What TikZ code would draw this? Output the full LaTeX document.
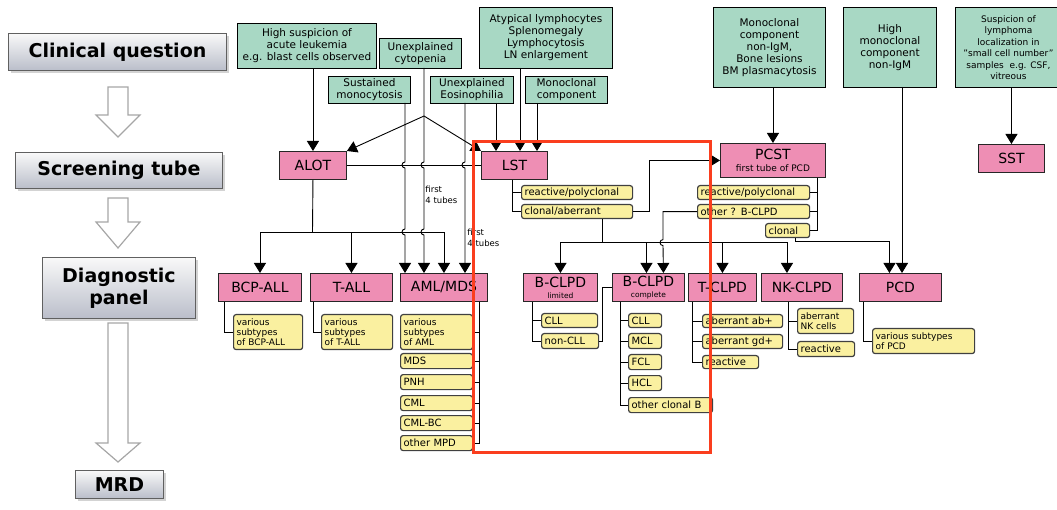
\documentclass[tikz,border=0pt]{standalone}
\usepackage{fontspec}
\setmainfont{DejaVu Sans}
\usetikzlibrary{arrows.meta, shadows}
\definecolor{cgreen}{RGB}{168,216,196}
\definecolor{tpink}{RGB}{238,142,180}
\definecolor{syellow}{RGB}{250,240,160}
\definecolor{qgray}{RGB}{186,190,202}
\definecolor{redline}{RGB}{250,62,30}

\begin{document}
\begin{tikzpicture}[
	x=1pt, y=-1pt, line width=0.9pt,
	arr/.style = {-{Triangle[width=12pt,length=10pt]}},
	sz/.style 2 args = {minimum width=#1, minimum height=#2},
	ys/.style 2 args = {minimum width=#1, minimum height=#2, text width=#1-6},
	box/.style = {anchor=north west, inner sep=1pt, align=center},
	question/.style = {box, draw=gray!75!black, top color=gray!5, bottom color=qgray,
		drop shadow={shadow xshift=2.5pt, shadow yshift=-2.5pt, opacity=0.35},
		font=\fontsize{19}{22}\selectfont\bfseries},
	clin/.style = {box, draw, fill=cgreen, font=\fontsize{10.5}{12}\selectfont},
	tube/.style = {box, draw=black!85, fill=tpink, font=\fontsize{14}{15}\selectfont},
	sub/.style = {box, draw=black!75, line width=1.2pt, rounded corners=2.5pt, fill=syellow,
		inner xsep=3pt, inner ysep=0.5pt, align=left, font=\fontsize{10}{11}\selectfont},
	sm/.style = {font=\fontsize{9}{10}\selectfont},
	hollow/.style = {draw=gray!70, fill=white, line width=1.2pt},
	note/.style = {anchor=north west, inner sep=0pt, align=left, font=\fontsize{8.5}{11}\selectfont},
	redbox/.style = {draw=redline, line width=3pt}
	]
\useasboundingbox (0,0) rectangle (1057,510);
\clip (0,0) rectangle (1057,510);
%
% workflow column
\node[question, sz={218}{37}] (cq) at (8,33) {Clinical question};
\node[question, sz={207}{36}] (st) at (15,152) {Screening tube};
\node[question, sz={153}{61}] (dp) at (42,257) {Diagnostic\\panel};
\node[question, sz={88}{28}] (mrd) at (75,470) {MRD};
\draw[hollow] (108,87) -- (128,87) -- (128,115) -- (140,115) -- (118,137) -- (96,115) -- (108,115) -- cycle;
\draw[hollow] (108,198) -- (128,198) -- (128,222) -- (140,222) -- (118,248) -- (96,222) -- (108,222) -- cycle;
\draw[hollow] (108,323) -- (128,323) -- (128,443) -- (140,443) -- (118,462) -- (96,443) -- (108,443) -- cycle;
%
% clinical questions
\node[clin, sz={139}{45}] (hsa) at (237,23) {High suspicion of\\acute leukemia\\e.g. blast cells observed};
\node[clin, sz={82}{30}] (cyt) at (379,38) {Unexplained\\cytopenia};
\node[clin, sz={82}{27}] (mono) at (328,76) {Sustained\\monocytosis};
\node[clin, sz={83}{27}] (eos) at (430,76) {Unexplained\\Eosinophilia};
\node[clin, sz={133}{61}] (atyp) at (479,7) {Atypical lymphocytes\\Splenomegaly\\Lymphocytosis\\LN enlargement};
\node[clin, sz={82}{27}] (mcomp) at (525,76) {Monoclonal\\component};
\node[clin, sz={112}{80}] (pcq) at (713,7) {Monoclonal\\component\\non-IgM,\\Bone lesions\\BM plasmacytosis};
\node[clin, sz={93}{80}] (hmc) at (843,7) {High\\monoclonal\\component\\non-IgM};
\node[clin, sz={106}{80}, font=\fontsize{9}{11.5}\selectfont] (susp) at (955,7) {Suspicion of\\lymphoma\\localization in\\"small cell number"\\samples\ \ e.g. CSF,\\vitreous};
%
% screening tubes
\node[tube, sz={67}{28}] (alot) at (279,151) {ALOT};
\node[tube, sz={66}{28}] (lst) at (481,151) {LST};
\node[tube, sz={105}{34}] (pcst) at (720,143) {PCST\\[-3pt]{\fontsize{9}{10}\selectfont first tube of PCD}};
\node[tube, sz={66}{28}] (sst) at (978,144) {SST};
%
% diagnostic panels
\node[tube, sz={83}{28}] (bcpall) at (218,273) {BCP-ALL};
\node[tube, sz={82}{28}] (tall) at (310,273) {T-ALL};
\node[tube, sz={87}{28}] (amlmds) at (400,273) {AML/MDS};
\node[tube, sz={74}{28}] (bclpdl) at (523,273) {B-CLPD\\[-4pt]{\fontsize{7.5}{8}\selectfont limited}};
\node[tube, sz={72}{28}] (bclpdc) at (612,273) {B-CLPD\\[-4pt]{\fontsize{7.5}{8}\selectfont complete}};
\node[tube, sz={68}{28}] (tclpd) at (688,273) {T-CLPD};
\node[tube, sz={81}{28}] (nkclpd) at (761,273) {NK-CLPD};
\node[tube, sz={82}{28}] (pcd) at (859,273) {PCD};
%
% results
\node[sub, sm, ys={69}{35}] (bcpsub) at (233,314) {various\\subtypes\\of BCP-ALL};
\node[sub, sm, ys={71}{35}] (tsub) at (321,314) {various\\subtypes\\of T-ALL};
\node[sub, sm, ys={72}{35}] (amlsub) at (400,314) {various\\subtypes\\of AML};
\node[sub, ys={72}{15}] (mds) at (400,353) {MDS};
\node[sub, ys={72}{15}] (pnh) at (400,374) {PNH};
\node[sub, ys={72}{15}] (cml) at (400,395) {CML};
\node[sub, ys={72}{15}] (cmlbc) at (400,415) {CML-BC};
\node[sub, ys={72}{15}] (mpd) at (400,435) {other MPD};
\node[sub, ys={111}{14}] (lstr) at (521,185) {reactive/polyclonal};
\node[sub, ys={111}{14}] (lstc) at (521,204) {clonal/aberrant};
\node[sub, ys={112}{14}] (pcr) at (697,185) {reactive/polyclonal};
\node[sub, ys={112}{14}] (pco) at (697,204) {other ? B-CLPD};
\node[sub, ys={44}{14}] (pcc) at (765,223) {clonal};
\node[sub, ys={56}{14}] (lcll) at (541,313) {CLL};
\node[sub, ys={57}{15}] (lncll) at (541,333) {non-CLL};
\node[sub, ys={33}{14}] (ccll) at (628,313) {CLL};
\node[sub, ys={33}{15}] (cmcl) at (628,333) {MCL};
\node[sub, ys={33}{15}] (cfcl) at (628,354) {FCL};
\node[sub, ys={33}{15}] (chcl) at (628,375) {HCL};
\node[sub, ys={84}{15}] (cob) at (628,397) {other clonal B};
\node[sub, ys={80}{13}] (tab) at (702,314) {aberrant ab+};
\node[sub, ys={80}{14}] (tgd) at (702,334) {aberrant gd+};
\node[sub, ys={56}{13}] (treact) at (702,355) {reactive};
\node[sub, sm, ys={56}{25}] (nkab) at (797,308) {aberrant\\NK cells};
\node[sub, ys={57}{15}] (nkr) at (797,341) {reactive};
\node[sub, sm, ys={102}{25}] (pcdsub) at (872,328) {various subtypes\\of PCD};
%
\node[note] (ft1) at (425,186) {first\\4 tubes};
\node[note] (ft2) at (467,229) {first\\4 tubes};
%
% question -> tube
\coordinate (m1) at (405,103);
\coordinate (c1) at (424,68);
\coordinate (fork) at (424,116);
\coordinate (e1) at (465,103);
\coordinate (e2) at (496,103);
\coordinate (a1) at (520,68);
\coordinate (k1) at (537,103);
\coordinate (h1) at (902,87);
\coordinate (abus) at (312.5,232);
\coordinate (lbus) at (602,242);
\draw[arr] (hsa.south -| alot.north) -- (alot.north);
\draw[arr] (fork) -- (alot.north east);
\draw[arr] (fork) -- (lst.north west);
\draw[arr] (e2) -- (e2 |- lst.north);
\draw[arr] (a1) -- (a1 |- lst.north);
\draw[arr] (k1) -- (k1 |- lst.north);
\draw[arr] (pcst.north |- pcq.south) -- (pcst.north);
\draw[arr] (sst.north |- susp.south) -- (sst.north);
\draw (alot.east) -- (lst.west);
%
% tube -> panel
\draw (alot.south) -- (abus);
\draw[arr] (abus) -| (bcpall.north);
\draw[arr] (abus) -| (tall.north);
\draw[arr] (abus) -| (amlmds.north);
\draw[arr] (m1) -- ++(0,59) arc[start angle=270,end angle=90,radius=3] -- ++(0,61)
	arc[start angle=270,end angle=90,radius=3] -- (m1 |- amlmds.north);
\draw[arr] (c1) -- ++(0,94) arc[start angle=270,end angle=90,radius=3] -- ++(0,61)
	arc[start angle=270,end angle=90,radius=3] -- (c1 |- amlmds.north);
\draw[arr] (e1) -- ++(0,59) arc[start angle=270,end angle=90,radius=3] -- (e1 |- amlmds.north);
\draw ([xshift=-2]lst.south) |- (lstr.west);
\draw ([xshift=-2]lst.south) |- (lstc.west);
\draw[arr] (lstc.east) -- ++(16,0) |- (pcst.west);
\draw (lstc.south -| lbus) -- (lbus);
\draw[arr] (lbus) -| (bclpdl.north);
\draw[arr] (lbus) -| ([xshift=-2]bclpdc.north);
\draw[arr] (lbus) -| (tclpd.north);
\draw[arr] (lbus) -| ([xshift=-15]nkclpd.north);
\foreach \s in {pcr,pco,pcc} \draw ([xshift=-8]pcst.south east) |- (\s.east);
\draw[arr] (pco.west) -- ++(-34,0) -- ++(0,28) arc[start angle=270,end angle=90,radius=3]
	-- ([xshift=15]bclpdc.north);
\draw[arr] ([xshift=8]pcc.south) -- ++(0,3) -| ([xshift=-11]pcd.north);
\draw[arr] (h1) -- (h1 |- pcd.north);
%
% panel -> results
\draw ([xshift=6]bcpall.south west) |- (bcpsub.west);
\draw ([xshift=3]tall.south west) |- (tsub.west);
\foreach \s in {amlsub,mds,pnh,cml,cmlbc,mpd} \draw ([xshift=-8]amlmds.south east) |- (\s.east);
\foreach \s in {lcll,lncll} \draw ([xshift=9]bclpdl.south west) |- (\s.west);
\draw (lncll.east) -- ++(3,0) |- (bclpdc.west);
\foreach \s in {ccll,cmcl,cfcl,chcl,cob} \draw ([xshift=8]bclpdc.south west) |- (\s.west);
\foreach \s in {tab,tgd,treact} \draw ([xshift=4]tclpd.south west) |- (\s.west);
\foreach \s in {nkab,nkr} \draw ([xshift=27]nkclpd.south west) |- (\s.west);
\draw ([xshift=4]pcd.south west) |- (pcdsub.west);
%
\draw[redbox] (473,142) rectangle (710,452);
\end{tikzpicture}
\end{document}
